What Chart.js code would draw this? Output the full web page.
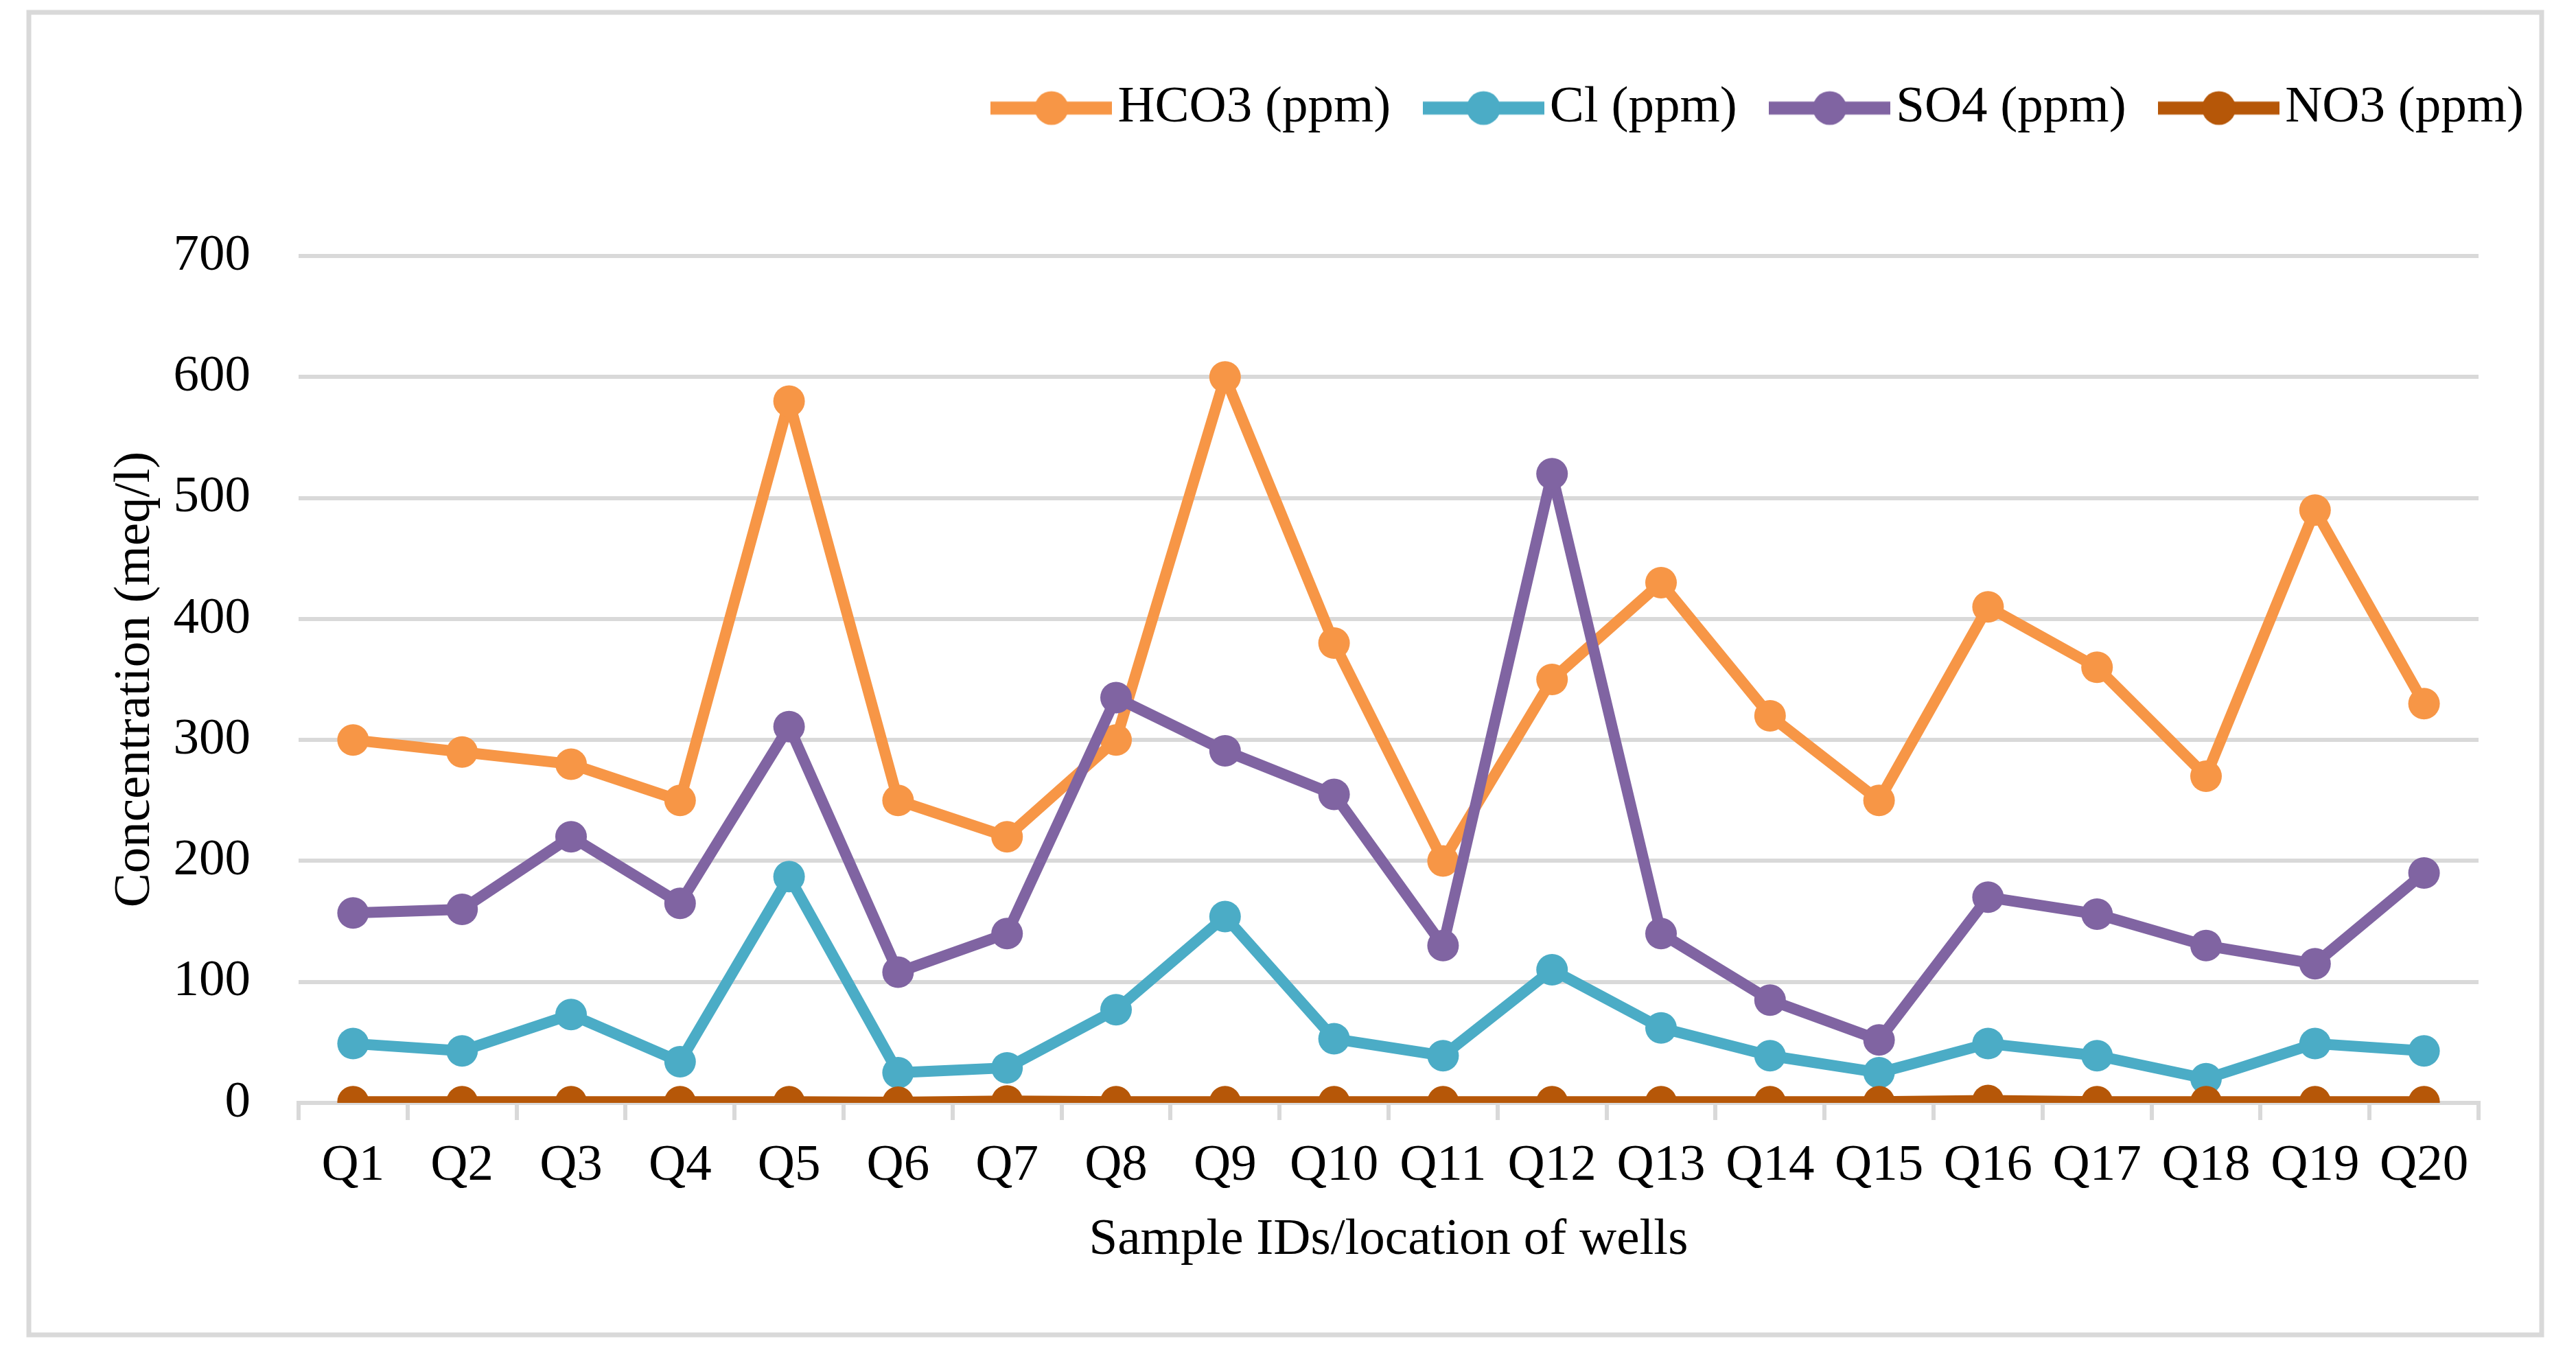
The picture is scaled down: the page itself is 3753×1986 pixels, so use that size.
<!DOCTYPE html>
<html lang="en">
<head>
  <meta charset="UTF-8">
  <title>Anion concentrations of wells</title>
  <script src="https://cdn.jsdelivr.net/npm/chart.js"></script>
  <style>
    html, body { margin: 0; padding: 0; background: #fff; }
    #wrap { width: 3753px; height: 1986px; }
  </style>
</head>
<body>
  <div id="wrap"><canvas id="chart" width="3753" height="1986"></canvas></div>

  <script>
    // values
    const samples = ["Q1", "Q2", "Q3", "Q4", "Q5", "Q6", "Q7", "Q8", "Q9", "Q10",
                     "Q11", "Q12", "Q13", "Q14", "Q15", "Q16", "Q17", "Q18", "Q19", "Q20"];
    const hco3 = [300, 290, 280, 250, 580, 250, 220, 300, 600, 380, 200, 350, 430, 320, 250, 410, 360, 270, 490, 330];
    const cl   = [49, 43, 73, 34, 187, 25, 29, 77, 154, 53, 39, 110, 62, 39, 25, 49, 39, 20, 49, 43];
    const so4  = [157, 160, 220, 165, 311, 108, 140, 335, 291, 255, 130, 520, 140, 85, 52, 170, 156, 130, 115, 190];
    const no3  = [1, 1, 1, 1, 1, 0.5, 1.5, 1, 1, 1, 1, 1, 1, 1, 1, 2, 1, 1, 1, 1];
    const seriesNames = ["HCO3 (ppm)", "Cl (ppm)", "SO4 (ppm)", "NO3 (ppm)"];
    const seriesColors = ["#F79646", "#4BACC6", "#8064A2", "#B65708"];
    const yTicks = [0, 100, 200, 300, 400, 500, 600, 700];

    const FONT = '"Liberation Serif", "Times New Roman", serif';
    const GRID = "#D9D9D9";

    // little line-with-dot picture for the legend
    function legendIcon(color) {
      const c = document.createElement("canvas");
      c.width = 177; c.height = 52;
      const g = c.getContext("2d");
      g.strokeStyle = color; g.lineWidth = 19;
      g.beginPath(); g.moveTo(0, 26); g.lineTo(177, 26); g.stroke();
      g.fillStyle = color;
      g.beginPath(); g.arc(88.5, 26, 24.5, 0, Math.PI * 2); g.fill();
      return c;
    }
    const icons = seriesColors.map(legendIcon);

    // grey frame round the whole chart
    const framePlugin = {
      id: "frame",
      beforeDraw(chart) {
        const g = chart.ctx;
        g.save();
        g.fillStyle = "#fff";
        g.fillRect(0, 0, chart.width, chart.height);
        g.strokeStyle = GRID;
        g.lineWidth = 7;
        g.strokeRect(42, 18, 3661, 1927);
        g.restore();
      }
    };

    // fixed legend height so the plot starts where it should
    const legendHeightPlugin = {
      id: "legendHeight",
      beforeLayout(chart) {
        const legend = chart.legend;
        if (!legend || legend._fixed) return;
        const fit = legend.fit;
        legend.fit = function () { fit.call(this); this.height = 329; };
        legend._fixed = true;
      }
    };

    const seriesValues = [hco3, cl, so4, no3];
    const datasets = seriesValues.map((vals, i) => ({
      label: seriesNames[i],
      data: vals,
      borderColor: seriesColors[i],
      backgroundColor: seriesColors[i],
      pointBackgroundColor: seriesColors[i],
      pointBorderWidth: 0,
      pointRadius: 23,
      pointHoverRadius: 23,
      borderWidth: 16,
      borderJoinStyle: "round",
      tension: 0,
      fill: false,
      order: seriesValues.length - 1 - i,
      yAxisID: "y"
    }));

    new Chart(document.getElementById("chart"), {
      type: "line",
      data: { labels: samples, datasets: datasets },
      plugins: [framePlugin, legendHeightPlugin],
      options: {
        responsive: false,
        devicePixelRatio: 1,
        animation: false,
        layout: { padding: { top: 44, right: 0, bottom: 60, left: 0 } },
        plugins: {
          tooltip: { enabled: false },
          legend: {
            position: "top",
            align: "end",
            labels: {
              usePointStyle: true,
              pointStyleWidth: 118,
              padding: 76,
              color: "#000",
              font: { family: FONT, size: 75 },
              generateLabels(chart) {
                return chart.data.datasets.map((ds, i) => ({
                  text: ds.label,
                  datasetIndex: i,
                  pointStyle: icons[i],
                  fillStyle: ds.borderColor,
                  strokeStyle: ds.borderColor,
                  lineWidth: 0,
                  hidden: false,
                  fontColor: "#000"
                }));
              }
            }
          }
        },
        scales: {
          x: {
            offset: true,
            grid: {
              offset: true,
              drawOnChartArea: false,
              drawTicks: true,
              tickLength: 25,
              color: GRID,
              lineWidth: 6
            },
            border: { display: true, color: GRID, width: 6 },
            ticks: {
              color: "#000",
              font: { family: FONT, size: 75 },
              padding: 22,
              autoSkip: false,
              maxRotation: 0
            },
            title: {
              display: true,
              text: "Sample IDs/location of wells",
              color: "#000",
              font: { family: FONT, size: 75 },
              padding: { top: 0, bottom: 74 }
            },
            afterFit(scale) { scale.height = 319; }
          },
          y: {
            position: "left",
            min: yTicks[0],
            max: yTicks[yTicks.length - 1],
            afterBuildTicks(scale) { scale.ticks = yTicks.map(v => ({ value: v })); },
            grid: { color: GRID, lineWidth: 6, drawTicks: false },
            border: { display: false },
            ticks: {
              color: "#000",
              font: { family: FONT, size: 75 },
              padding: 70
            },
            title: {
              display: true,
              text: "Concentration (meq/l)",
              color: "#000",
              font: { family: FONT, size: 75 },
              padding: { top: 152, bottom: 0 }
            },
            afterFit(scale) { scale.width = 435; }
          },
          // empty right-hand axis, only keeps the plot clear of the right edge
          yRight: {
            position: "right",
            display: true,
            grid: { display: false },
            border: { display: false },
            ticks: { display: false },
            afterFit(scale) { scale.width = 142; }
          }
        }
      }
    });
  </script>
</body>
</html>
